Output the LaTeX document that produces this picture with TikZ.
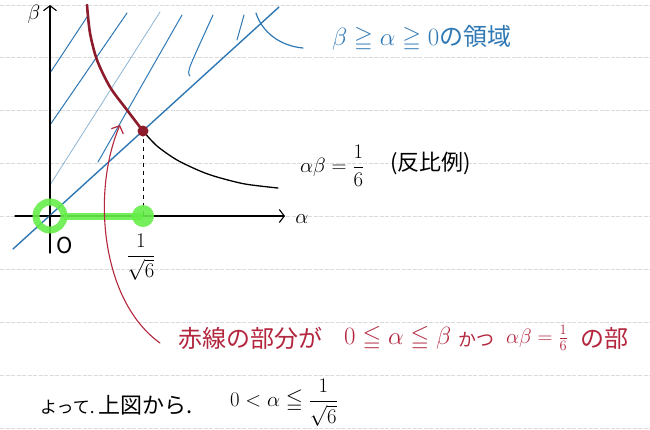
\documentclass[tikz,border=0pt]{standalone}
\usepackage{amsmath,amssymb}
\usepackage{fontspec}
\setmainfont{Noto Sans CJK JP}
\usetikzlibrary{arrows.meta}
\definecolor{bluink}{HTML}{2F78B4}
\definecolor{redink}{HTML}{B3263E}
\definecolor{curvered}{HTML}{8C1B2B}
\definecolor{hlgreen}{HTML}{66EE4A}
\definecolor{ruled}{HTML}{DADADA}
\begin{document}
\begin{tikzpicture}[x=1pt,y=-1pt,
  ruleline/.style={ruled, line width=0.7pt, dash pattern=on 4pt off 1.5pt},
  axisline/.style={black, line width=1.1pt, line cap=round,
     -{Straight Barb[length=5pt,width=13pt,line width=1.1pt]}},
  diagline/.style={bluink, line width=1.4pt, line cap=round},
  hatchline/.style={bluink, line width=1pt, line cap=round},
  hlstroke/.style={hlgreen, opacity=0.9},
  lbl/.style={inner sep=0pt, font=\fontsize{22}{26}\selectfont},
  lblbig/.style={inner sep=0pt, font=\fontsize{24}{28}\selectfont},
  lblsmall/.style={inner sep=0pt, font=\fontsize{18}{22}\selectfont}]
\useasboundingbox[fill=white] (0,0) rectangle (650,429);
% ruled paper
\foreach \yy in {5,57,110,163,216,269,322,375,428}
  \draw[ruleline] (0,\yy) -- (650,\yy);
% coordinates
\coordinate (O) at (50,216);
\coordinate (xs) at (15,216);
\coordinate (xe) at (285,216);
\coordinate (ys) at (50,253);
\coordinate (ye) at (50,5);
\coordinate (ls) at (13,249);
\coordinate (le) at (279,7);
\coordinate (P) at (143,131);
\coordinate (Px) at (143,216);
% hatching
\draw[hatchline] (50,73) -- (87,17);
\draw[hatchline] (50,125) -- (127,13);
\draw[hatchline, opacity=0.55, line width=0.8pt] (50,185) -- (160,12);
\draw[hatchline] (98,162) -- (182,15);
\draw[hatchline] (190,76) .. controls (186,72) and (190,66) .. (213,15);
\draw[hatchline] (237,40) -- (244,15);
% axes
\draw[axisline] (xs) -- (xe);
\draw[axisline] (ys) -- (ye);
% line beta = alpha
\draw[diagline] (ls) -- (le);
% leader of region label
\coordinate (ld1) at (256,13);
\coordinate (ld2) at (303,48);
\draw[hatchline, line width=1.2pt] (ld1) .. controls (262,32) and (280,46) .. (ld2);
% hyperbola
\draw[black, line width=1.3pt, line cap=round] plot[smooth] coordinates
  {(143,131) (157,146) (177,160) (200,171) (217,177) (245,184) (278,188)};
\draw[curvered, line width=2.6pt, line cap=round] plot[smooth] coordinates
  {(87,5) (90,33) (97,60) (110,87) (127,110) (143,131)};
% dashed vertical
\draw[black, line width=0.9pt, dash pattern=on 4pt off 4pt] (P) -- (Px);
\fill[curvered] (P) circle (5.5);
% green highlight
\draw[hlstroke, line width=7pt] (O) circle (14);
\draw[hlstroke, line width=7pt] (64,216) -- (Px);
\fill[hlstroke] (Px) circle (11);
\fill[black] (O) circle (1.6);
% red arrow
\coordinate (rs) at (160,343);
\coordinate (rt) at (120,125);
\draw[redink, line width=1.1pt, line cap=round,
  -{Straight Barb[length=6pt,width=13pt,line width=1.2pt]}]
  (rs) .. controls (100,300) and (92,190) .. (rt);
% axis labels
\node[lbl] (beta) at (34,14) {$\beta$};
\node[lbl] (alpha) at (302,219) {$\alpha$};
\node[lbl] (orig) at (65,245) {$\mathrm{O}$};
\node[inner sep=0pt, font=\fontsize{20}{24}\selectfont] (ax) at (141,257) {$\dfrac{1}{\sqrt{6}}$};
% region label
\node[lblbig, bluink, anchor=west] (region) at (332,38) {$\beta\geqq\alpha\geqq0$の領域};
% hyperbola label
\node[lbl, anchor=west] (hyp) at (300,166) {$\alpha\beta=\dfrac{1}{6}$};
\node[lbl, anchor=west] (hypn) at (390,163) {(反比例)};
% red note
\node[lblbig, redink, anchor=west] (r1) at (178,338) {赤線の部分が};
\node[lblbig, redink, anchor=west] (r2) at (344,338) {$0\leqq\alpha\leqq\beta$};
\node[lblsmall, redink, anchor=west] (r3) at (458,340) {かつ};
\node[lbl, redink, anchor=west] (r4) at (506,338) {$\alpha\beta=\frac{1}{6}$};
\node[lblbig, redink, anchor=west] (r5) at (580,338) {の部};
% conclusion
\node[inner sep=0pt, font=\fontsize{17}{20}\selectfont, anchor=west] (b1) at (40,407) {よって.};
\node[lbl, anchor=west] (b2) at (98,405) {上図から.};
\node[lbl, anchor=west] (b3) at (230,403) {$0<\alpha\leqq\dfrac{1}{\sqrt{6}}$};
\end{tikzpicture}
\end{document}
